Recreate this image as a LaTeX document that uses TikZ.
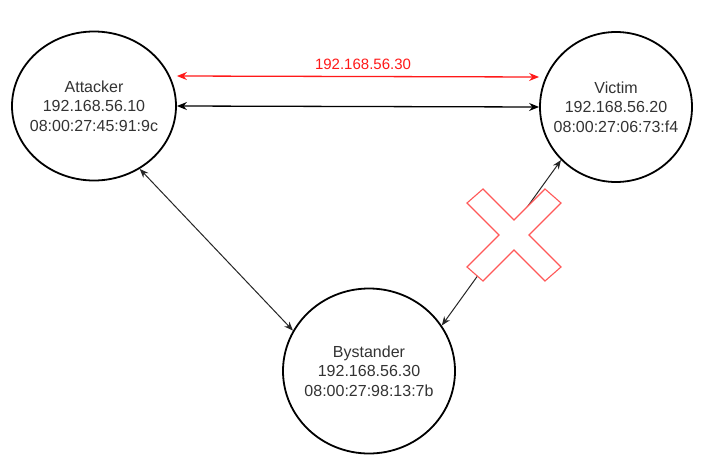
\documentclass[tikz,border=0pt]{standalone}
\usepackage{fontspec}
\setmainfont{Liberation Sans}
\usetikzlibrary{arrows.meta, shapes.geometric}
\tikzset{every picture/.style={x=1pt,y=-1pt},
  host/.style={ellipse,draw=black,line width=1.8pt,inner xsep=-10pt,inner ysep=0pt,align=center,
    text=black!80,font=\fontsize{16}{19.5}\selectfont},
  link/.style={{Stealth[length=10pt,width=8pt]}-{Stealth[length=10pt,width=8pt]},line width=1.3pt},
  slink/.style={{Stealth[length=9pt,width=7pt]}-{Stealth[length=9pt,width=7pt]},line width=1pt,black!85},
  spoof/.style={link,red!85!black,draw=red!90},
  block/.style={draw=red!65,fill=white,line width=1.1pt,line join=miter}}

\begin{document}
\begin{tikzpicture}
            \useasboundingbox[fill=white] (0,0) rectangle (715,455);
            \node[host,minimum width=164pt,minimum height=149pt] (att) at (94,106) {Attacker\\192.168.56.10\\08:00:27:45:91:9c};
            \node[host,minimum width=152pt,minimum height=150pt] (vic) at (616,107) {Victim\\192.168.56.20\\08:00:27:06:73:f4};
            \node[host,minimum width=172pt,minimum height=165pt] (bys) at (369,371) {Bystander\\192.168.56.30\\08:00:27:98:13:7b};

            \draw[spoof] ([yshift=30pt]att.east) -- ([yshift=30pt]vic.west)
              node[midway,above=3pt,xshift=5pt,text=red!90,font=\fontsize{15}{18}\selectfont] (ip) {192.168.56.30};
            \draw[link] (att.east) -- (vic.west);
            \foreach \from/\to in {att.-54/bys.152, vic.224/bys.32}
              \draw[slink] (\from) -- (\to);

            % cut link
            \draw[block,shift={(514,235)}] (0,-15) -- (31,-46) -- (47,-32) -- (15,0) -- (47,32) -- (31,46)
              -- (0,15) -- (-31,46) -- (-47,32) -- (-15,0) -- (-47,-32) -- (-31,-46) -- cycle;
        \end{tikzpicture}
\end{document}
